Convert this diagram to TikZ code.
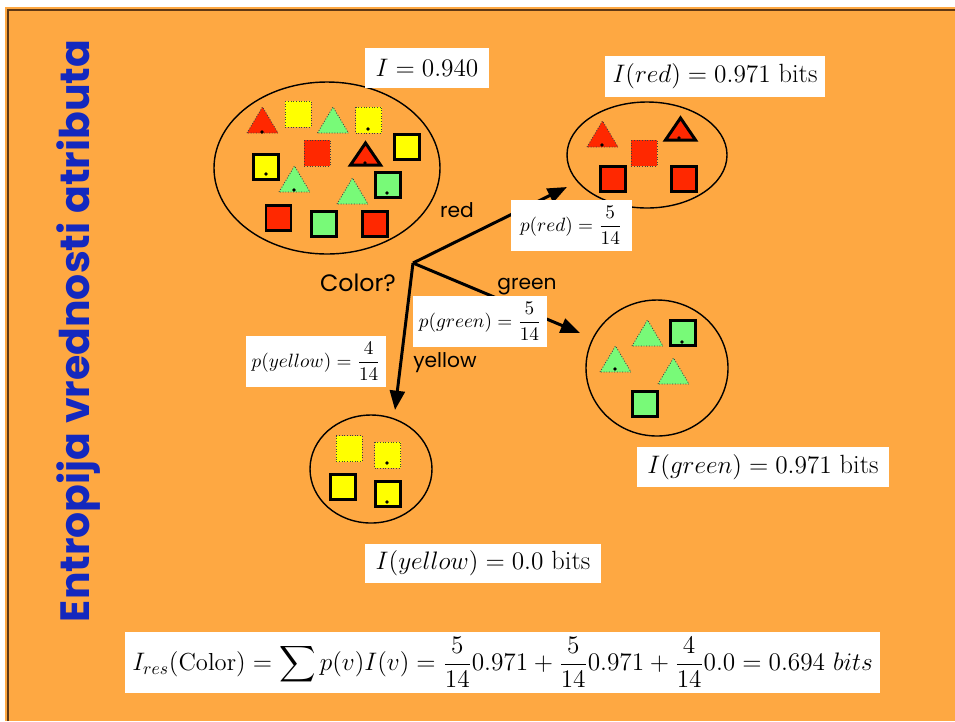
\documentclass[tikz,border=0pt]{standalone}
\usepackage{amsmath}
\usepackage{fontspec}
\newfontfamily\comicfont{Poppins}
\usetikzlibrary{arrows.meta}

\definecolor{slideorange}{RGB}{254,168,66}
\definecolor{slideedge}{RGB}{96,56,20}
\definecolor{titleblue}{RGB}{20,40,190}
\definecolor{itemred}{RGB}{255,40,0}
\definecolor{itemyellow}{RGB}{255,255,0}
\definecolor{itemgreen}{RGB}{120,250,120}

\begin{document}
\begin{tikzpicture}[x=0.02cm, y=-0.02cm,
    dotbox/.style={draw=black!75, densely dotted, line width=0.5pt},
    boldbox/.style={draw=black, line width=1.7pt, line join=miter},
    branch/.style={line width=1.7pt, -{Triangle[length=11pt, width=8.5pt]}},
    branchlabel/.style={font=\comicfont\fontsize{11.5}{13}\selectfont},
    info/.style={fill=white, inner sep=0pt},
    infobig/.style={info, font=\fontsize{15}{18}\selectfont},
    infosmall/.style={info, font=\fontsize{11}{13}\selectfont}]

    % --- Slide background ---
    \useasboundingbox (0,0) rectangle (955,721);
    \fill[slideorange] (5,7) rectangle (955,721);
    \draw[slideedge, line width=1.3pt] (8,721) -- (8,10) -- (955,10);

    % --- Title (vertical) ---
    \node[rotate=90, text=titleblue, font=\comicfont\bfseries\fontsize{23.3}{26}\selectfont]
        (title) at (79,331) {Entropija vrednosti atributa};

    % --- Sets (ellipses) ---
    \draw[line width=0.8pt] (327,168) ellipse [x radius=113, y radius=86];
    \draw[line width=0.8pt] (647,155) ellipse [x radius=80, y radius=53];
    \draw[line width=0.8pt] (657,368) ellipse [x radius=71, y radius=68];
    \draw[line width=0.8pt] (371,469) ellipse [x radius=61, y radius=54];

    % --- Squares with dotted border: centre x / centre y / colour ---
    \foreach \x/\y/\c in {298/114/itemyellow, 368.5/120/itemyellow, 317/153/itemred,
                          644/153/itemred,
                          349/448.5/itemyellow, 387.5/455/itemyellow}
        \filldraw[dotbox, fill=\c] (\x-13,\y-13) rectangle (\x+13,\y+13);

    % --- Squares with bold border ---
    \foreach \x/\y/\c in {266/166.5/itemyellow, 407/146.5/itemyellow, 388/185/itemgreen,
                          278.5/218/itemred, 324/224/itemgreen, 375/224/itemred,
                          612.5/179/itemred, 683.5/179/itemred,
                          683/333/itemgreen, 645/403.5/itemgreen,
                          343/487/itemyellow, 387.5/493.5/itemyellow}
        \filldraw[boldbox, fill=\c] (\x-12.5,\y-12.5) rectangle (\x+12.5,\y+12.5);

    % --- Triangles with dotted border: apex x / base y / colour ---
    \foreach \x/\y/\c in {262.5/133/itemred, 333/133/itemgreen, 294.5/192/itemgreen,
                          352.5/204/itemgreen,
                          602.5/147/itemred,
                          647.5/346/itemgreen, 615.5/372/itemgreen, 673.5/384/itemgreen}
        \filldraw[dotbox, fill=\c] (\x-15.5,\y) -- (\x,\y-26) -- (\x+15.5,\y) -- cycle;

    % --- Triangles with bold border ---
    \foreach \x/\y in {365.5/165, 680.5/140}
        \filldraw[boldbox, fill=itemred] (\x-15,\y) -- (\x,\y-22) -- (\x+15,\y) -- cycle;

    % --- Marker dots ---
    \foreach \x/\y in {262/132, 368/129, 365/163, 266/174, 294/190, 387/193,
                       602/145, 679/138, 682/342, 615/369, 387/463, 387/502}
        \fill (\x,\y) circle (1.1pt);

    % --- Split on colour ---
    \coordinate (split) at (413,263);
    \coordinate (redtip) at (567,187);
    \coordinate (greentip) at (580,333);
    \coordinate (yellowtip) at (395,410);
    \draw[branch] (split) -- (redtip);
    \draw[branch] (split) -- (greentip);
    \draw[branch] (split) -- (yellowtip);

    \node[font=\comicfont\fontsize{13.5}{15}\selectfont] (question) at (358,283) {Color?};
    \node[branchlabel] (redlbl) at (457,210) {red};
    \node[branchlabel] (greenlbl) at (527,287) {green};
    \node[branchlabel] (yellowlbl) at (445,363) {yellow};

    % --- Probabilities ---
    \node[infosmall, minimum width=2.42cm, minimum height=1.02cm] (pred) at (571,225)
        {$p(red) = \dfrac{5}{14}$};
    \node[infosmall, minimum width=2.68cm, minimum height=1.02cm] (pgreen) at (480,321)
        {$p(green) = \dfrac{5}{14}$};
    \node[infosmall, minimum width=2.82cm, minimum height=1.02cm] (pyellow) at (316,361)
        {$p(yellow) = \dfrac{4}{14}$};

    % --- Entropies ---
    \node[infobig, minimum width=2.5cm, minimum height=0.8cm] (Iall) at (427,68)
        {$I = 0.940$};
    \node[infobig, minimum width=4.42cm, minimum height=0.82cm] (Ired) at (715,76)
        {$I(red) = 0.971\ \mathrm{bits}$};
    \node[infobig, minimum width=5.04cm, minimum height=0.8cm] (Igreen) at (763,467)
        {$I(green) = 0.971\ \mathrm{bits}$};
    \node[infobig, minimum width=4.74cm, minimum height=0.78cm] (Iyellow) at (483,563)
        {$I(yellow) = 0.0\ \mathrm{bits}$};

    % --- Residual information ---
    \node[info, minimum width=15.1cm, minimum height=1.22cm, font=\fontsize{14}{17}\selectfont]
        (Ires) at (502.5,662.5)
        {$\displaystyle I_{res}(\mathrm{Color}) = \sum p(v)I(v) = \frac{5}{14}0.971
          + \frac{5}{14}0.971 + \frac{4}{14}0.0 = 0.694\ bits$};
\end{tikzpicture}
\end{document}
